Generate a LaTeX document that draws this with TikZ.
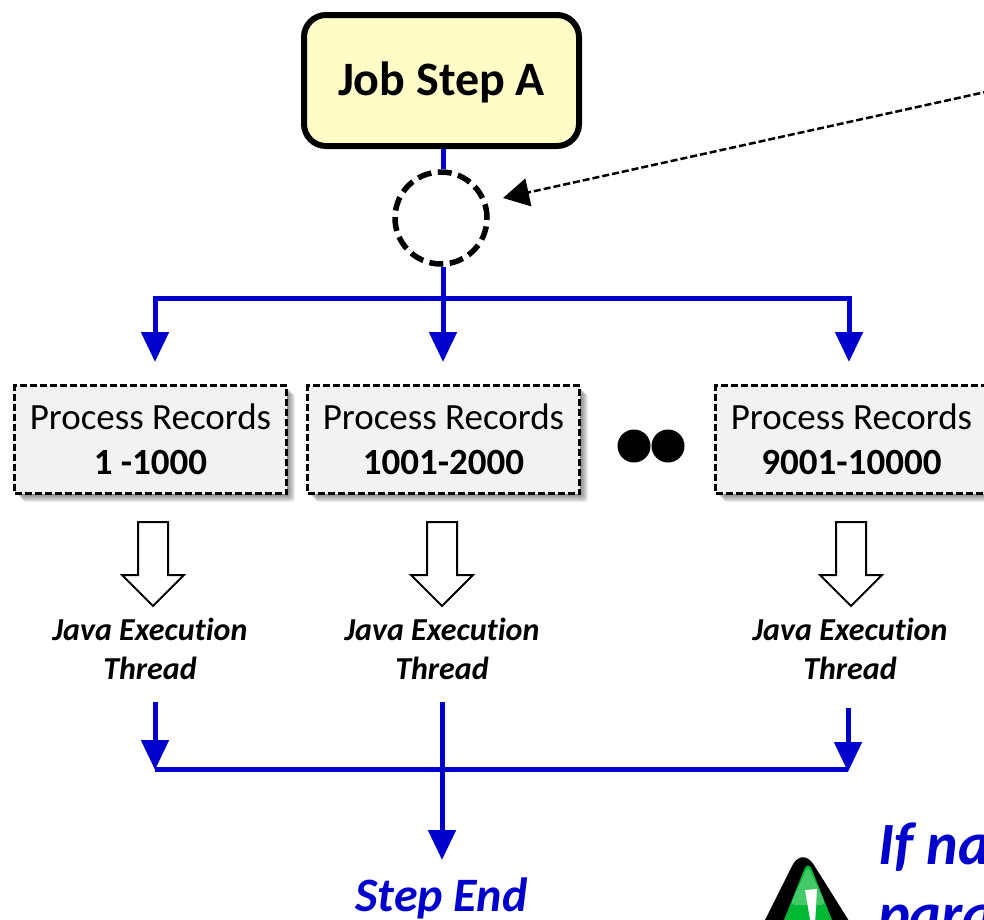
\documentclass[tikz,border=0pt]{standalone}
\usepackage{fontspec}
\setmainfont[RawFeature={-liga}]{Carlito}
\usetikzlibrary{arrows.meta,shapes.arrows}
\definecolor{flowblue}{HTML}{0000CC}
\tikzset{
  x=1pt,y=-1pt,
  flow/.style={draw=flowblue,line width=5pt},
  flowtip/.style={flow,-{Triangle[length=30pt,width=27pt]}},
  procbox/.style={draw=black,dash pattern=on 7pt off 3pt,line width=2.2pt,fill=black!5,minimum width=272pt,minimum height=108pt,align=center,inner sep=0pt,font=\fontsize{37}{45}\selectfont},
  shadowbox/.style={fill=black,opacity=.07,draw=none,rounded corners=3pt},
  threadlabel/.style={align=center,inner sep=0pt,font=\fontsize{32}{38.5}\selectfont\bfseries\itshape},
  hollow/.style={draw=black,line width=2pt,fill=white,line join=miter},
  bigdot/.style={circle,fill=black,minimum size=33pt,inner sep=0pt},
}
\begin{document}
\begin{tikzpicture}
\useasboundingbox (0,0) rectangle (984,919);
\clip (0,0) rectangle (984,919);
% nodes
\node[draw=black,line width=6pt,rounded corners=22pt,fill=yellow!22,minimum width=275pt,minimum height=131pt,inner sep=0pt,font=\fontsize{48}{56}\selectfont\bfseries] (job) at (441.5,80.5) {\raisebox{-15pt}[0pt][0pt]{Job Step A}};
\node[circle,draw=black,line width=5.5pt,dash pattern=on 14pt off 6.5pt,minimum size=92pt,inner sep=0pt] (gate) at (441,218) {};
% shadows
\foreach \d in {1,2,...,9}{
  \fill[shadowbox] (14+\d,385+\d) rectangle (287+\d-1,494+\d-1);
  \fill[shadowbox] (307+\d,385+\d) rectangle (580+\d-1,494+\d-1);
  \fill[shadowbox] (715+\d,385+\d) rectangle (988+\d-1,494+\d-1);
}
\node[procbox] (p1) at (150.5,439.5) {Process Records\\\textbf{1 -1000}};
\node[procbox] (p2) at (443.5,439.5) {Process Records\\\textbf{1001-2000}};
\node[procbox] (p3) at (851.5,439.5) {Process Records\\\textbf{9001-10000}};
\node[bigdot] (d1) at (634,446) {};
\node[bigdot] (d2) at (668,446) {};
\node[threadlabel] (t1) at (150,649) {Java Execution\\Thread};
\node[threadlabel] (t2) at (442,649) {Java Execution\\Thread};
\node[threadlabel] (t3) at (850,649) {Java Execution\\Thread};
\node[anchor=base,inner sep=0pt,text=flowblue,font=\fontsize{48}{56}\selectfont\bfseries\itshape] (stepend) at (441.5,911) {Step End};
\node[anchor=base west,inner sep=0pt,text=flowblue,font=\fontsize{60}{70}\selectfont\bfseries\itshape] (note1) at (878,864) {If na};
\node[anchor=base west,inner sep=0pt,text=flowblue,font=\fontsize{60}{70}\selectfont\bfseries\itshape] (note2) at (878,934) {para};
% hollow arrows
\foreach \c in {153,442,851}{
  \draw[hollow] (\c-15,522) -- (\c+15,522) -- (\c+15,575) -- (\c+31,575) -- (\c,606) -- (\c-31,575) -- (\c-15,575) -- cycle;
}
% coordinates
\coordinate (a1) at (155,362); \coordinate (a2) at (443,362); \coordinate (a3) at (849,362);
\coordinate (top) at (443,298); \coordinate (tl) at (155,298); \coordinate (tr) at (849,298);
\coordinate (b1s) at (155,702); \coordinate (b1) at (155,770);
\coordinate (b3s) at (848,708); \coordinate (b3) at (848,772);
\coordinate (bl) at (155,769); \coordinate (br) at (848,769);
\coordinate (b2s) at (442,702); \coordinate (b2) at (442,860);
\coordinate (farend) at (990,91); \coordinate (neargate) at (503,198);
% connectors
\draw[flow] (job.south -| top) -- (gate.north -| top);
\draw[flowtip] (gate.south -| top) -- (a2);
\draw[flow,line cap=rect] (tl) -- (tr);
\draw[flowtip] (tl) -- (a1);
\draw[flowtip] (tr) -- (a3);
\draw[flowtip] (b1s) -- (b1);
\draw[flowtip] (b3s) -- (b3);
\draw[flow] (bl) -- (br);
\draw[flowtip] (b2s) -- (b2);
\draw[line width=2.5pt,dash pattern=on 7pt off 3pt,-{Triangle[length=26pt,width=28pt]}] (farend) -- (neargate);
% warning icon
\fill[black,rounded corners=22pt] (802,846) -- (755,940) -- (861,940) -- cycle;
\fill[green!65!black!80!cyan,rounded corners=10pt] (808,860) -- (778,935) -- (838,935) -- cycle;
\fill[white,opacity=.25,rounded corners=5pt] (808,866) -- (790,905) -- (826,905) -- cycle;
\fill[white] (805,890) -- (817,889) -- (815,925) -- (811,925) -- cycle;
\end{tikzpicture}
\end{document}
